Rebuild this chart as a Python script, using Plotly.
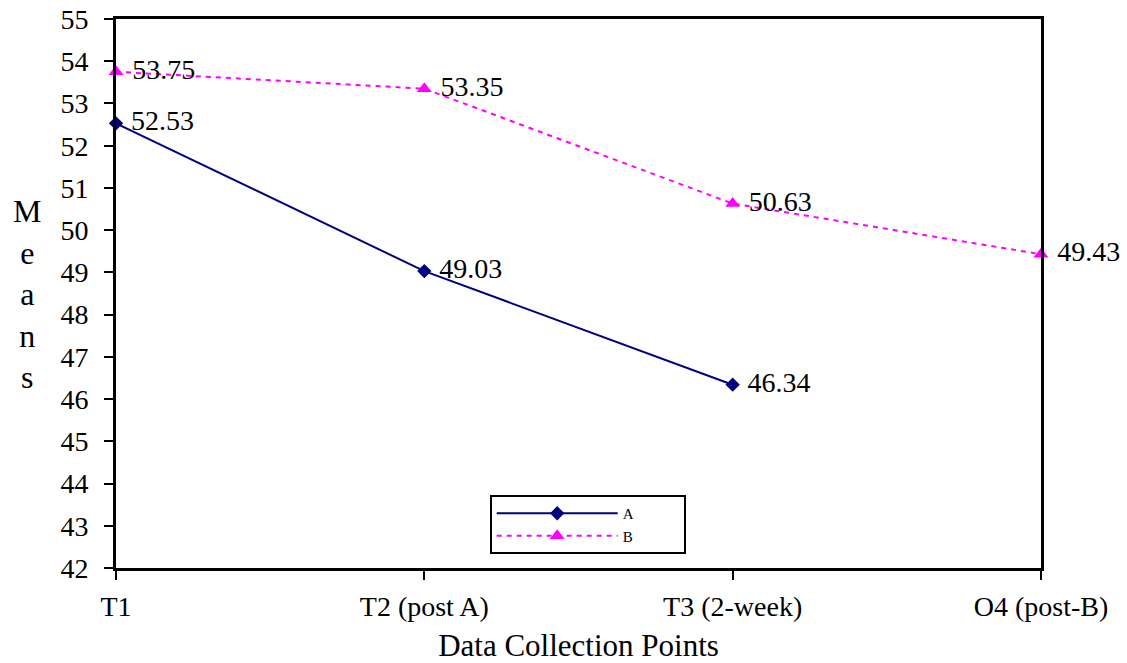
import plotly.graph_objects as go

categories = ["T1", "T2 (post A)", "T3 (2-week)", "O4 (post-B)"]
a_values = [52.53, 49.03, 46.34]
b_values = [53.75, 53.35, 50.63, 49.43]

FONT = "Liberation Serif, Times New Roman, serif"
PAD = "\u00a0"
LEG_PAD = "\u00a0" * 12

fig = go.Figure()
fig.add_trace(go.Scatter(
    x=[0, 1, 2], y=a_values, name="A" + LEG_PAD,
    mode="lines+markers+text",
    line=dict(color="#000080", width=2),
    marker=dict(symbol="diamond", size=11, color="#000080"),
    text=[PAD + f"{v:.2f}" for v in a_values], textposition="middle right",
    textfont=dict(family=FONT, size=28, color="black"),
    cliponaxis=False,
))
fig.add_trace(go.Scatter(
    x=[0, 1, 2, 3], y=b_values, name="B" + LEG_PAD,
    mode="lines+markers+text",
    line=dict(color="#FF00FF", width=2, dash="5px,5px"),
    marker=dict(symbol="triangle-up", size=13, color="#FF00FF"),
    text=[PAD + f"{v:.2f}" for v in b_values], textposition="middle right",
    textfont=dict(family=FONT, size=28, color="black"),
    cliponaxis=False,
))

fig.update_layout(
    width=1127, height=663,
    margin=dict(l=116, r=86, t=19, b=95),
    paper_bgcolor="white", plot_bgcolor="white",
    font=dict(family=FONT, size=28, color="black"),
    showlegend=True,
    legend=dict(
        x=0.404, y=0.133, xanchor="left", yanchor="top",
        bordercolor="black", borderwidth=2, bgcolor="white",
        font=dict(family=FONT, size=15), itemwidth=121,
        tracegroupgap=0,
    ),
    annotations=[dict(
        text="M<br>e<br>a<br>n<br>s", x=-0.096, y=0.5, xref="paper", yref="paper",
        showarrow=False, font=dict(family=FONT, size=32),
        xanchor="center", yanchor="middle",
    )],
)

fig.update_xaxes(
    range=[0, 3], tickmode="array", tickvals=[0, 1, 2, 3], ticktext=categories,
    showgrid=False, zeroline=False, showline=True, linecolor="black", linewidth=3,
    ticks="outside", ticklen=9, tickwidth=2, tickcolor="black",
    mirror=True, ticklabelstandoff=2, automargin=False,
    title=dict(text="Data Collection Points", standoff=17, font=dict(family=FONT, size=31)),
    tickfont=dict(family=FONT, size=28),
)
fig.update_yaxes(
    range=[42, 55], dtick=1, tick0=42,
    showgrid=False, zeroline=False, showline=True, linecolor="black", linewidth=3,
    ticks="outside", ticklen=9, tickwidth=2, tickcolor="black",
    mirror=True, ticklabelstandoff=10, automargin=False,
    tickfont=dict(family=FONT, size=28),
)

fig.write_html("out.html")
